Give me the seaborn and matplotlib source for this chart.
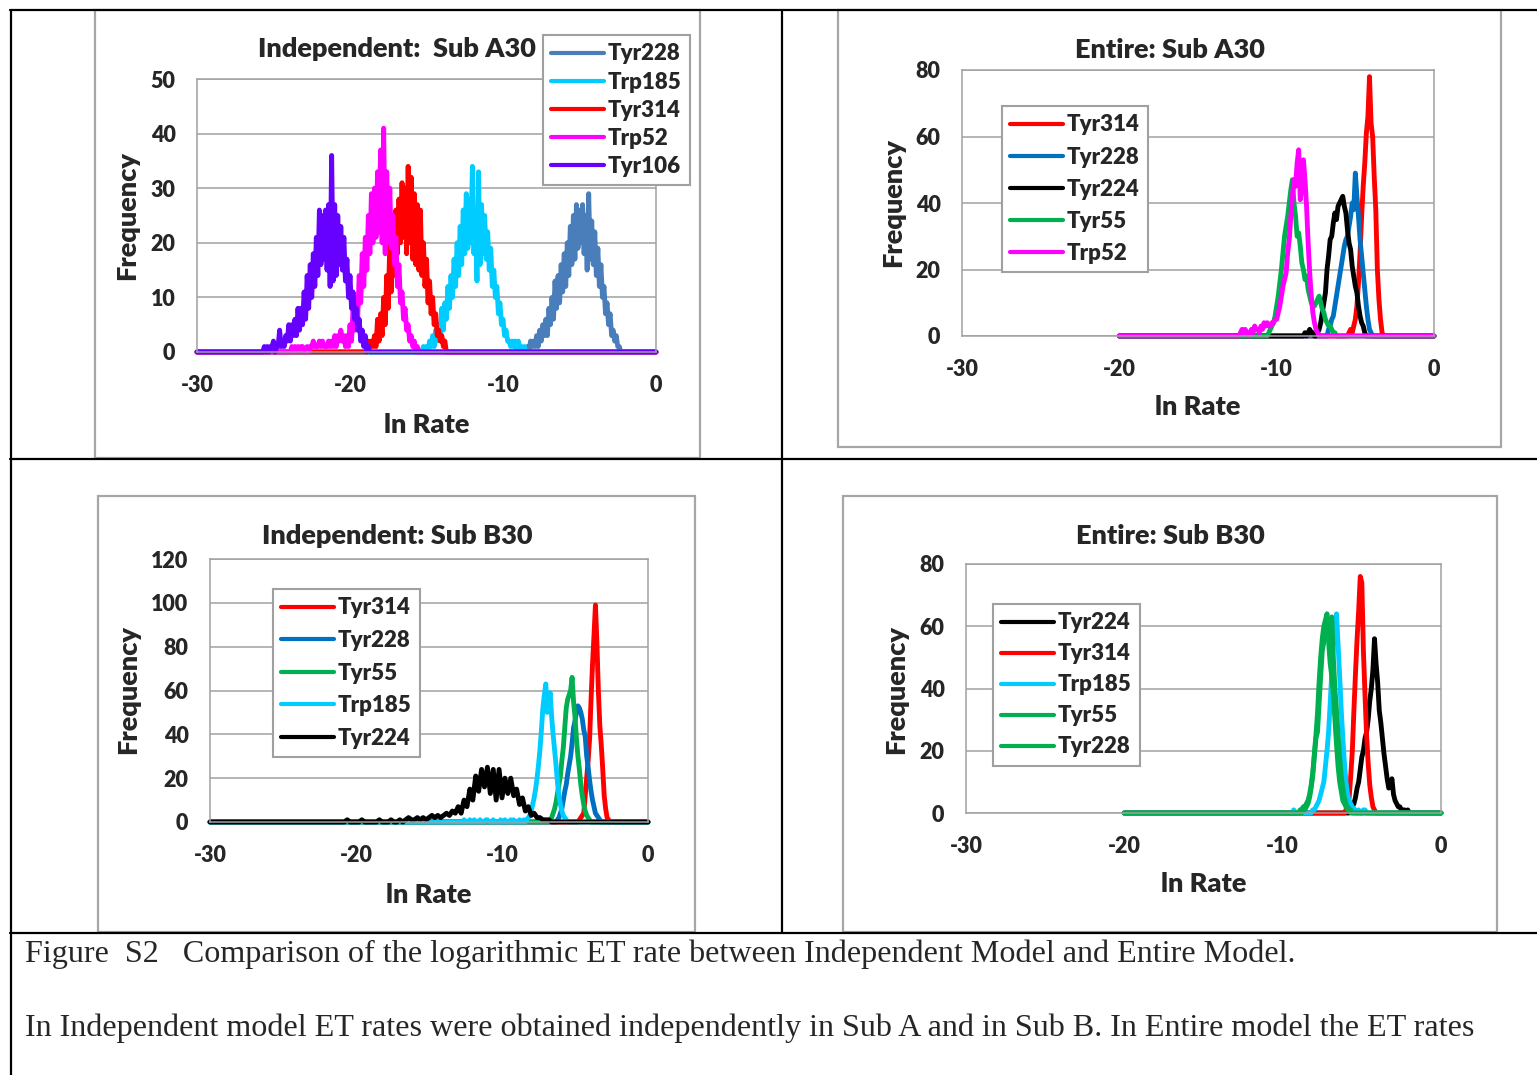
import numpy as np
import pandas as pd
import matplotlib
matplotlib.use("Agg")
import matplotlib.pyplot as plt
from matplotlib.lines import Line2D
from matplotlib.patches import Rectangle
import seaborn as sns

W, H = 1537, 1075
GRID_GREY = "#A0A0A0"

# ---- colours -------------------------------------------------------------
BLUE_A = "#4A7EBB"
BLUE = "#0070C0"
CYAN = "#00CCFF"
RED = "#FF0000"
MAGENTA = "#FF00FF"
VIOLET = "#6600FF"
GREEN = "#00B050"
BLACK = "#000000"

# ---- panel A: Independent, Sub A30 (bin 0.1, range -30..0) ---------------
IND_A_NAMES = ["Tyr228", "Trp185", "Tyr314", "Trp52", "Tyr106"]
IND_A_STARTS = [-8.6, -15.4, -19.0, -24.0, -25.8]
IND_A_STEPS = [0.1, 0.1, 0.1, 0.1, 0.1]
IND_A_TYR228 = [0, 0, 1, 0, 2, 1, 2, 1, 3, 1, 4, 2, 5, 3, 6, 3, 8, 5, 10, 6,
                13, 8, 14, 9, 16, 11, 18, 12, 20, 14, 23, 16, 25, 17, 27, 19, 26, 20, 27, 18,
                25, 15, 29, 17, 24, 16, 22, 14, 19, 12, 16, 10, 12, 7, 9, 5, 7, 3, 4, 2,
                3, 1, 1, 0, 0]
IND_A_TRP185 = [0, 0, 1, 0, 1, 0, 2, 1, 3, 1, 4, 2, 5, 3, 8, 4, 9, 6, 12, 8,
                14, 10, 17, 12, 20, 14, 23, 16, 26, 18, 29, 19, 28, 20, 34, 18, 25, 13, 33, 16,
                27, 18, 25, 17, 22, 15, 19, 12, 15, 10, 12, 7, 9, 5, 6, 3, 4, 2, 2, 1,
                2, 1, 2, 0, 2, 1, 1, 0, 1, 0, 0]
IND_A_TYR314 = [0, 0, 2, 1, 2, 1, 3, 1, 6, 2, 7, 3, 10, 5, 14, 8, 20, 11, 24, 14,
                26, 18, 28, 20, 31, 21, 30, 18, 34, 20, 32, 17, 29, 16, 27, 15, 26, 14, 20, 12,
                17, 9, 13, 7, 10, 5, 7, 3, 4, 2, 3, 1, 2, 0, 0]
IND_A_TRP52 = [0, 0, 1, 0, 1, 0, 1, 0, 1, 1, 0, 0, 1, 0, 1, 1, 2, 1, 1, 1,
               2, 1, 2, 1, 1, 1, 2, 1, 2, 1, 3, 1, 3, 2, 4, 2, 3, 1, 3, 1,
               5, 2, 8, 4, 10, 6, 14, 9, 18, 12, 21, 15, 25, 18, 29, 20, 30, 21, 33, 22,
               37, 20, 41, 18, 33, 20, 30, 19, 25, 16, 21, 12, 16, 9, 11, 6, 8, 4, 5, 2,
               3, 1, 2, 0, 1, 0, 0]
IND_A_TYR106 = [0, 0, 1, 0, 1, 0, 1, 1, 2, 0, 1, 1, 4, 1, 2, 1, 3, 2, 5, 2,
                5, 3, 6, 3, 8, 4, 8, 5, 11, 6, 14, 8, 16, 10, 18, 12, 21, 14, 26, 16,
                25, 17, 26, 15, 27, 12, 36, 13, 27, 14, 25, 16, 23, 15, 21, 13, 17, 10, 14, 8,
                11, 6, 8, 4, 6, 2, 4, 1, 3, 0, 1, 0, 0]

# ---- panel B: Entire, Sub A30 (bin 0.1, range -20..0) ---------------------
ENT_A_NAMES = ["Tyr314", "Tyr228", "Tyr224", "Tyr55", "Trp52"]
ENT_A_STARTS = [-5.5, -6.8, -8.3, -10.6, -12.4]
ENT_A_STEPS = [0.1, 0.1, 0.1, 0.1, 0.1]
ENT_A_TYR314 = [0, 1, 2, 1, 3, 5, 9, 16, 25, 36, 45, 52, 61, 66, 78, 64, 60, 48, 38, 20,
                11, 5, 1, 0]
ENT_A_TYR228 = [0, 2, 3, 5, 6, 9, 12, 15, 18, 21, 24, 27, 29, 30, 33, 36, 40, 38, 49, 42,
                36, 29, 24, 19, 14, 9, 5, 2, 1, 0]
ENT_A_TYR224 = [0, 1, 0, 1, 2, 1, 1, 0, 0, 1, 2, 4, 7, 10, 13, 20, 24, 29, 30, 34,
                37, 35, 39, 40, 41, 42, 39, 37, 32, 28, 26, 21, 18, 15, 13, 9, 6, 4, 3, 1,
                0]
ENT_A_TYR55 = [0, 1, 2, 3, 4, 6, 9, 12, 16, 20, 25, 30, 33, 36, 40, 44, 47, 40, 36, 30,
               31, 27, 22, 20, 17, 18, 14, 12, 10, 9, 9, 10, 11, 12, 10, 8, 7, 5, 4, 3,
               3, 2, 1, 1, 0]
ENT_A_TRP52 = [0, 1, 2, 1, 2, 1, 0, 1, 2, 1, 3, 2, 2, 1, 3, 2, 4, 3, 4, 3,
               3, 4, 4, 5, 5, 7, 9, 12, 15, 17, 19, 25, 29, 36, 42, 47, 45, 52, 56, 41,
               45, 53, 47, 39, 28, 19, 12, 7, 4, 2, 1, 0]

# ---- panel C: Independent, Sub B30 (range -30..0) -------------------------
IND_B_NAMES = ["Tyr314", "Tyr228", "Tyr55", "Trp185", "Tyr224"]
IND_B_STARTS = [-4.8, -6.3, -6.8, -12.8, -21.0]
IND_B_STEPS = [0.1, 0.1, 0.1, 0.1, 0.2]
IND_B_TYR314 = [0, 1, 2, 3, 4, 12, 20, 28, 38, 56, 72, 85, 99, 82, 60, 44, 35, 24, 12, 6,
                2, 1, 0]
IND_B_TYR228 = [0, 1, 2, 4, 6, 10, 14, 17, 22, 26, 30, 36, 43, 46, 50, 53, 52, 50, 47, 42,
                39, 30, 25, 19, 14, 10, 7, 4, 3, 2, 1, 0]
IND_B_TYR55 = [0, 1, 2, 4, 6, 9, 13, 17, 21, 28, 34, 43, 52, 56, 58, 60, 66, 55, 48, 38,
               30, 24, 17, 12, 8, 5, 3, 2, 1, 0]
IND_B_TRP185 = [0, 0, 1, 0, 0, 0, 1, 0, 0, 1, 0, 0, 0, 1, 0, 0, 0, 1, 1, 0,
                0, 0, 1, 0, 0, 0, 0, 1, 0, 0, 1, 0, 0, 0, 1, 0, 1, 0, 0, 0,
                1, 0, 0, 1,
                0, 1, 2, 3, 5, 8, 11, 15, 20, 26, 33, 42, 52, 58, 63, 50, 55, 59, 48, 40,
                33, 26, 18, 12, 8, 5, 3, 2, 1, 0]
IND_B_TYR224 = [0, 0, 1, 0, 0, 0, 0, 1, 0, 0, 0, 0, 0, 1, 0, 0, 0, 1, 0, 0,
                1, 0, 1, 2, 1, 1, 2, 1, 2, 1, 2, 3, 2, 3, 2, 3, 4, 3, 5, 4,
                7, 4, 10, 7, 15, 10, 21, 14, 24, 16, 25, 13, 24, 10, 24, 11, 20, 13, 20, 12,
                15, 8, 11, 5, 7, 3, 4, 2, 2, 1, 1, 1, 0]

# ---- panel D: Entire, Sub B30 (bin 0.1, range -20..0) ---------------------
ENT_B_NAMES = ["Tyr224", "Tyr314", "Trp185", "Tyr55", "Tyr228"]
ENT_B_STARTS = [-5.8, -6.1, -9.4, -9.0, -8.8]
ENT_B_STEPS = [0.1, 0.1, 0.1, 0.1, 0.1]
ENT_B_TYR224 = [0, 1, 2, 3, 5, 8, 10, 14, 18, 20, 24, 26, 30, 36, 40, 46, 56, 48, 42, 33,
                29, 24, 19, 15, 11, 8, 9, 11, 6, 4, 3, 2, 2, 1, 1, 1, 0, 1, 0]
ENT_B_TYR314 = [0, 1, 3, 5, 12, 20, 33, 45, 56, 65, 76, 74, 52, 38, 25, 16, 9, 5, 2, 1, 0]
ENT_B_TRP185 = [0, 1, 0, 0, 0, 0, 0, 0, 0, 0, 0, 0, 0, 1, 1, 2, 3, 4, 6, 8,
                10, 15, 20, 26, 35, 45, 55, 60, 64, 54, 44, 33, 24, 16, 10, 6, 4, 3, 2, 1,
                1, 0, 1, 0, 0, 1, 1, 0]
ENT_B_TYR55 = [0, 1, 1, 2, 2, 3, 4, 6, 9, 13, 19, 25, 32, 42, 50, 56, 60, 62, 64, 55,
               48, 44, 38, 30, 22, 15, 10, 7, 4, 3, 2, 1, 1, 0]
ENT_B_TYR228 = [0, 1, 1, 2, 3, 5, 8, 12, 18, 24, 26, 35, 44, 52, 55, 58, 60, 57, 55, 63,
                50, 40, 33, 25, 18, 12, 8, 5, 3, 2, 1, 1, 0]

CAPTION_1 = ("Figure  S2   Comparison of the logarithmic ET rate between "
             "Independent Model and Entire Model.")
CAPTION_2 = ("In Independent model ET rates were obtained independently in Sub A "
             "and in Sub B. In Entire model the ET rates")


def tidy(names, starts, steps, values, lo, hi):
    """Long table of every histogram, each padded with its zero baseline."""
    frames = []
    for name, x0, dx, vals in zip(names, starts, steps, values):
        grid = np.round(np.arange(lo, hi + dx / 2, dx), 2)
        freq = np.zeros(len(grid))
        i0 = int(round((x0 - lo) / dx))
        freq[i0:i0 + len(vals)] = vals
        frames.append(pd.DataFrame({"series": name, "ln_rate": grid, "freq": freq}))
    return pd.concat(frames, ignore_index=True)


def px_rect(l, t, r, b):
    return [l / W, 1 - b / H, (r - l) / W, (b - t) / H]


def draw_panel(fig, area, df, names, colours, ymax, ystep, leg_xy, leg_space,
               title, title_xy, xlab_xy, ylab_xy, frame):
    fl, ft, fr, fb = frame
    fig.add_artist(Rectangle((fl / W, 1 - fb / H), (fr - fl) / W, (fb - ft) / H,
                             transform=fig.transFigure, fill=False,
                             edgecolor="#A6A6A6", linewidth=1.6))
    ax = fig.add_axes(px_rect(*area))
    sns.lineplot(ax=ax, data=df, x="ln_rate", y="freq", hue="series",
                 hue_order=names, palette=dict(zip(names, colours)),
                 estimator=None, sort=False, linewidth=3.5, clip_on=False)
    ax.set_xlim(-30, 0)
    ax.set_ylim(0, ymax)
    ax.set_xticks([-30, -20, -10, 0])
    ax.set_yticks(np.arange(0, ymax + 1, ystep))
    ax.set(xlabel=None, ylabel=None)
    ax.yaxis.grid(True, color=GRID_GREY, linewidth=1.1)
    ax.set_axisbelow(True)
    for sp in ax.spines.values():
        sp.set_color(GRID_GREY)
        sp.set_linewidth(1.1)
    ax.tick_params(axis="y", length=0, pad=15.5, labelsize=15.5)
    ax.tick_params(axis="x", direction="in", length=5, width=1.1,
                   color=GRID_GREY, pad=16.5, labelsize=15.5)

    handles, labels = ax.get_legend_handles_labels()
    leg = ax.legend(handles, labels, loc="upper left",
                    bbox_to_anchor=(leg_xy[0] / W, 1 - leg_xy[1] / H),
                    bbox_transform=fig.transFigure, borderaxespad=0,
                    frameon=True, fancybox=False, framealpha=1,
                    edgecolor=GRID_GREY, fontsize=16, handlelength=2.35,
                    handletextpad=0.2, borderpad=0.38, labelspacing=leg_space)
    leg.get_frame().set_linewidth(1.5)
    for line in leg.get_lines():
        line.set_linewidth(3.0)

    fig.text(title_xy[0] / W, 1 - title_xy[1] / H, title, ha="center",
             va="baseline", fontsize=19.5)
    fig.text(xlab_xy[0] / W, 1 - xlab_xy[1] / H, "ln Rate", ha="center",
             va="baseline", fontsize=19.5)
    fig.text(ylab_xy[0] / W, 1 - ylab_xy[1] / H, "Frequency", ha="center",
             va="center", rotation=90, fontsize=19.5)
    return ax


def main():
    sns.set_style("white")
    plt.rcParams["font.family"] = ["Lato", "DejaVu Sans"]
    plt.rcParams["font.weight"] = "heavy"
    plt.rcParams["axes.unicode_minus"] = False

    fig = plt.figure(figsize=(W / 100, H / 100), dpi=100)
    fig.patch.set_facecolor("white")

    df_a = tidy(IND_A_NAMES, IND_A_STARTS, IND_A_STEPS,
                [IND_A_TYR228, IND_A_TRP185, IND_A_TYR314, IND_A_TRP52, IND_A_TYR106],
                -30, 0)
    draw_panel(fig, (197, 79, 656, 352), df_a, IND_A_NAMES,
               [BLUE_A, CYAN, RED, MAGENTA, VIOLET], 50, 10, (543, 35), 0.32,
               "Independent:  Sub A30", (397, 57), (427, 433), (127, 216),
               (95, 10, 700, 458))

    df_b = tidy(ENT_A_NAMES, ENT_A_STARTS, ENT_A_STEPS,
                [ENT_A_TYR314, ENT_A_TYR228, ENT_A_TYR224, ENT_A_TYR55, ENT_A_TRP52],
                -20, 0)
    draw_panel(fig, (962, 70, 1434, 336), df_b, ENT_A_NAMES,
               [RED, BLUE, BLACK, GREEN, MAGENTA], 80, 20, (1002, 106), 0.5,
               "Entire: Sub A30", (1170, 58), (1198, 415), (893, 202),
               (838, 10, 1501, 447))

    df_c = tidy(IND_B_NAMES, IND_B_STARTS, IND_B_STEPS,
                [IND_B_TYR314, IND_B_TYR228, IND_B_TYR55, IND_B_TRP185, IND_B_TYR224],
                -30, 0)
    draw_panel(fig, (210, 559, 648, 822), df_c, IND_B_NAMES,
               [RED, BLUE, GREEN, CYAN, BLACK], 120, 20, (273, 589), 0.52,
               "Independent: Sub B30", (397, 544), (429, 903), (128, 690),
               (98, 496, 695, 932))

    df_d = tidy(ENT_B_NAMES, ENT_B_STARTS, ENT_B_STEPS,
                [ENT_B_TYR224, ENT_B_TYR314, ENT_B_TRP185, ENT_B_TYR55, ENT_B_TYR228],
                -20, 0)
    draw_panel(fig, (966, 564, 1441, 813), df_d, ENT_B_NAMES,
               [BLACK, RED, CYAN, GREEN, GREEN], 80, 20, (993, 604), 0.45,
               "Entire: Sub B30", (1170, 544), (1204, 892), (896, 689),
               (843, 496, 1497, 932))

    # table rules of the document page
    rules = [((10, 10), (1537, 10)), ((11, 10), (11, 1075)),
             ((782, 10), (782, 933)), ((10, 459), (1537, 459)),
             ((10, 933), (1537, 933))]
    for (x1, y1), (x2, y2) in rules:
        fig.add_artist(Line2D([x1 / W, x2 / W], [1 - y1 / H, 1 - y2 / H],
                              transform=fig.transFigure, color="black",
                              linewidth=1.6))

    fig.text(25 / W, 1 - 962 / H, CAPTION_1, family="Liberation Serif",
             fontweight="normal", fontsize=23.1, va="baseline")
    fig.text(25 / W, 1 - 1036 / H, CAPTION_2, family="Liberation Serif",
             fontweight="normal", fontsize=23.1, va="baseline")

    fig.savefig("out.png", dpi=100, facecolor="white")
    plt.close(fig)


if __name__ == "__main__":
    main()
